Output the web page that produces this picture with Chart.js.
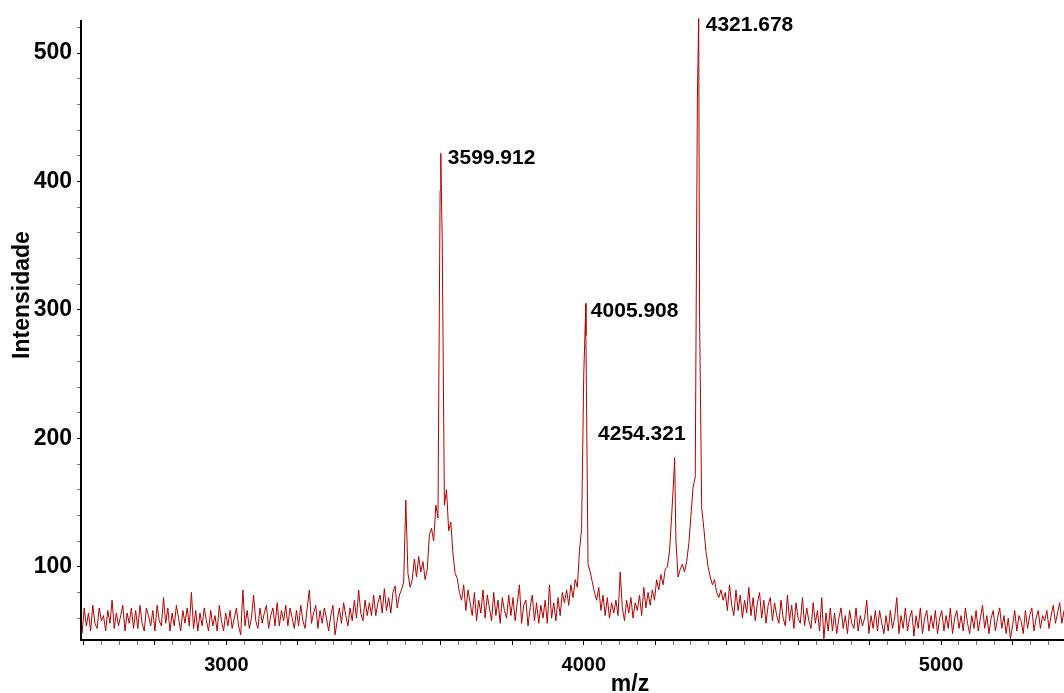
<!DOCTYPE html>
<html>
<head>
<meta charset="utf-8">
<script src="https://cdn.jsdelivr.net/npm/chart.js@4.4.1/dist/chart.umd.min.js"></script>
<style>
    html, body { margin: 0; padding: 0; background: #fff; }
    #spectrum { display: block; }
</style>
</head>
<body>
<canvas id="spectrum" width="1064" height="693"></canvas>
<script>
// MALDI spectrum, sampled every 6 Da from 2596 to 5344
const MZ_START = 2596;
const MZ_STEP = 6;
const intensity = [
    48, 68, 54, 64, 50, 70, 56, 52, 68, 58, 62, 50, 66, 56, 74, 52, 64, 54, 62, 70, 50, 64, 56, 68, 52,
    66, 52, 70, 56, 50, 68, 62, 54, 66, 50, 70, 58, 54, 76, 56, 68, 50, 64, 54, 70, 60, 50, 66, 56, 68,
    54, 80, 52, 66, 50, 64, 54, 68, 58, 50, 66, 54, 62, 50, 70, 58, 50, 64, 54, 66, 52, 60, 68, 54, 47,
    82, 54, 66, 52, 60, 78, 58, 52, 68, 56, 64, 70, 52, 62, 68, 54, 72, 54, 66, 58, 70, 54, 68, 60, 52,
    66, 54, 70, 58, 52, 68, 82, 56, 64, 70, 52, 66, 56, 68, 60, 50, 62, 70, 47, 58, 68, 56, 72, 62, 54,
    68, 58, 74, 60, 82, 64, 58, 74, 62, 72, 62, 78, 62, 72, 78, 64, 83, 66, 76, 64, 80, 85, 68, 78, 82,
    88, 152, 95, 84, 90, 106, 92, 108, 96, 104, 90, 98, 125, 130, 120, 148, 138, 393, 352, 148, 160, 128, 135, 110, 95,
    91, 80, 74, 86, 66, 82, 72, 62, 80, 58, 74, 64, 82, 60, 78, 68, 58, 80, 62, 74, 56, 76, 66, 60, 78,
    62, 76, 58, 72, 86, 56, 70, 74, 54, 68, 78, 58, 72, 56, 70, 60, 74, 56, 86, 60, 72, 58, 76, 62, 80,
    72, 82, 70, 86, 76, 90, 84, 112, 130, 250, 280, 102, 96, 88, 80, 74, 84, 66, 78, 62, 76, 60, 72, 64, 74,
    62, 96, 68, 58, 74, 64, 76, 60, 72, 66, 78, 62, 84, 68, 80, 70, 82, 74, 90, 82, 94, 86, 98, 100, 112,
    140, 170, 120, 92, 98, 102, 96, 104, 118, 140, 162, 170, 465, 300, 146, 130, 112, 100, 92, 86, 90, 80, 76, 82, 74,
    80, 66, 86, 70, 62, 82, 66, 78, 60, 74, 64, 84, 62, 76, 58, 72, 80, 60, 74, 56, 70, 76, 58, 72, 62,
    56, 74, 60, 54, 78, 58, 70, 52, 72, 60, 56, 76, 54, 68, 58, 52, 72, 56, 66, 50, 76, 44, 64, 50, 68,
    50, 64, 48, 60, 68, 52, 62, 48, 66, 56, 52, 68, 50, 62, 54, 60, 74, 48, 62, 52, 66, 50, 66, 56, 48,
    62, 50, 66, 52, 60, 76, 48, 62, 52, 68, 50, 60, 66, 46, 62, 52, 68, 48, 60, 66, 50, 62, 52, 66, 48,
    60, 66, 50, 62, 52, 68, 48, 60, 66, 52, 62, 50, 68, 56, 48, 62, 52, 66, 50, 60, 70, 52, 62, 48, 60,
    66, 50, 60, 68, 52, 62, 48, 60, 44, 54, 66, 50, 62, 58, 48, 66, 52, 62, 68, 50, 60, 66, 52, 62, 58,
    66, 52, 62, 70, 56, 64, 72, 56, 66
];

// labelled peaks (apex m/z and height)
const peakMz = [3599.912, 4005.908, 4254.321, 4321.678];
const peakInt = [422, 305, 185, 527];

const xTickLabels = [3000, 4000, 5000];
const yTickLabels = [100, 200, 300, 400, 500];

// where each peak label sits relative to its apex (px)
const labelOffset = [
    { dx: 7, dy: 5, align: 'left' },
    { dx: 5, dy: 8, align: 'left' },
    { dx: 11, dy: -23, align: 'right' },
    { dx: 7, dy: 7, align: 'left' }
];

const points = intensity.map((v, i) => ({ x: MZ_START + i * MZ_STEP, y: v }));
peakMz.forEach((mz, i) => points.push({ x: mz, y: peakInt[i] }));
points.sort((a, b) => a.x - b.x);

const FONT = '"Liberation Sans", Arial, sans-serif';

const textPlugin = {
    id: 'spectrumText',
    afterDraw(chart) {
        const ctx = chart.ctx;
        const xs = chart.scales.x, ys = chart.scales.y;
        ctx.save();
        ctx.fillStyle = '#000';
        ctx.font = 'bold 21px ' + FONT;
        ctx.textBaseline = 'middle';
        peakMz.forEach((mz, i) => {
            const o = labelOffset[i];
            ctx.textAlign = o.align;
            ctx.fillText(mz.toFixed(3), xs.getPixelForValue(mz) + o.dx, ys.getPixelForValue(peakInt[i]) + o.dy);
        });
        // axis titles
        ctx.font = 'bold 23px ' + FONT;
        ctx.textAlign = 'center';
        ctx.fillText('m/z', 630, 685);
        ctx.translate(23, 295);
        ctx.rotate(-Math.PI / 2);
        ctx.fillText('Intensidade', 0, 0);
        ctx.restore();
    }
};

function tickColor(major) {
    return ctx => (ctx.tick && ctx.tick.value % major === 0) ? '#000' : '#777';
}

new Chart(document.getElementById('spectrum'), {
    type: 'line',
    data: {
        datasets: [{
            data: points,
            borderColor: '#b40000',
            borderWidth: 1,
            pointRadius: 0,
            tension: 0,
            clip: false
        }]
    },
    options: {
        responsive: false,
        animation: false,
        parsing: false,
        layout: { padding: { top: 21, right: 0, left: 0, bottom: 0 } },
        plugins: { legend: { display: false }, tooltip: { enabled: false } },
        scales: {
            x: {
                type: 'linear',
                min: 2593,
                max: 5344,
                border: { color: '#000', width: 2 },
                grid: { drawOnChartArea: false, tickLength: 5, tickColor: tickColor(200) },
                afterBuildTicks: scale => {
                    const t = [];
                    for (let v = 2600; v <= 5300; v += 50) t.push({ value: v });
                    scale.ticks = t;
                },
                afterFit: scale => { scale.height = 53; },
                ticks: {
                    autoSkip: false,
                    maxRotation: 0,
                    padding: 8,
                    color: '#000',
                    font: { family: FONT, size: 20, weight: 'bold' },
                    callback: v => xTickLabels.includes(v) ? String(v) : ''
                }
            },
            y: {
                min: 43,
                max: 525,
                border: { color: '#000', width: 2 },
                grid: { drawOnChartArea: false, tickLength: 4, tickColor: tickColor(100) },
                afterBuildTicks: scale => {
                    const t = [];
                    for (let v = 60; v <= 520; v += 20) t.push({ value: v });
                    scale.ticks = t;
                },
                afterFit: scale => { scale.width = 81; },
                ticks: {
                    autoSkip: false,
                    padding: 5,
                    color: '#000',
                    font: { family: FONT, size: 23, weight: 'bold' },
                    callback: v => yTickLabels.includes(v) ? String(v) : ''
                }
            }
        }
    },
    plugins: [textPlugin]
});
</script>
</body>
</html>
